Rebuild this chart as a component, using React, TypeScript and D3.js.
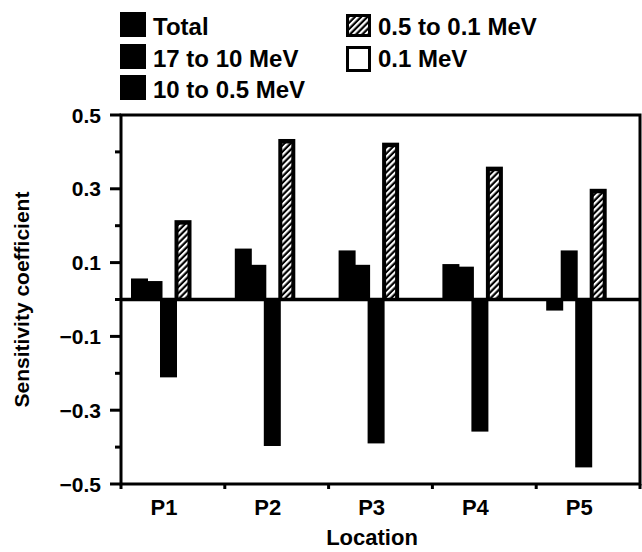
import React from "react";
import * as d3 from "d3";

const categories = ["P1", "P2", "P3", "P4", "P5"];
const seriesNames = ["Total", "17 to 10 MeV", "10 to 0.5 MeV", "0.5 to 0.1 MeV", "0.1 MeV"];
const totalValues = [0.057, 0.138, 0.133, 0.096, -0.03];
const mev17to10Values = [0.05, 0.094, 0.094, 0.089, 0.133];
const mev10to05Values = [-0.211, -0.397, -0.39, -0.358, -0.455];
const mev05to01Values = [0.215, 0.435, 0.425, 0.36, 0.3];
const mev01Values = [0, 0, 0, 0, 0];
const majorTicks = [0.5, 0.3, 0.1, -0.1, -0.3, -0.5];
const minorTicks = [0.4, 0.2, 0.0, -0.2, -0.4];
const yTitle = "Sensitivity coefficient";
const xTitle = "Location";

const seriesValues = [totalValues, mev17to10Values, mev10to05Values, mev05to01Values, mev01Values];
const seriesStyle = ["solid", "solid", "solid", "hatch", "empty"];

const W = 642;
const H = 552;
const left = 121;
const right = 640;
const top = 115;
const bottom = 484;
const FONT = "'Liberation Sans', Arial, Helvetica, sans-serif";

const fmt = (v: number) => (v < 0 ? "\u2212" : "") + Math.abs(v).toFixed(1);

export default function App() {
  const x0 = d3.scaleBand<string>().domain(categories).range([left, right]).padding(0);
  const x1 = d3.scaleBand<string>().domain(seriesNames).range([10, 10 + 5 * 14.5]).padding(0);
  const y = d3.scaleLinear().domain([-0.5, 0.5]).range([bottom, top]);
  const barW = x1.bandwidth() + 2.5;
  const y0 = y(0);

  const bars: React.ReactNode[] = [];
  seriesNames.forEach((name, si) => {
    categories.forEach((cat, ci) => {
      const v = seriesValues[si][ci];
      const bx = (x0(cat) as number) + (x1(name) as number);
      const by = Math.min(y(v), y0);
      const bh = Math.abs(y(v) - y0);
      const style = seriesStyle[si];
      if (bh <= 0) return;
      if (style === "solid") {
        bars.push(<rect key={`${si}-${ci}`} x={bx} y={by} width={barW} height={bh} fill="#000" />);
      } else if (style === "hatch") {
        bars.push(
          <g key={`${si}-${ci}`}>
            <rect x={bx} y={by} width={barW} height={bh} fill="#000" />
            <rect x={bx + 4} y={by + 4.5} width={barW - 8} height={Math.max(0, bh - 4.5)} fill="url(#hatch)" />
          </g>
        );
      } else {
        bars.push(
          <rect key={`${si}-${ci}`} x={bx + 1.5} y={by + 1.5} width={barW - 3} height={Math.max(0, bh - 3)} fill="#fff" stroke="#000" strokeWidth={3} />
        );
      }
    });
  });

  const legendItems = [
    { name: seriesNames[0], style: "solid", x: 120, y: 35 },
    { name: seriesNames[1], style: "solid", x: 120, y: 67 },
    { name: seriesNames[2], style: "solid", x: 120, y: 98 },
    { name: seriesNames[3], style: "hatch", x: 346, y: 35 },
    { name: seriesNames[4], style: "empty", x: 346, y: 67 },
  ];

  return (
    <div style={{ position: "fixed", left: 0, top: 0, width: W, height: H, background: "#fff" }}>
      <svg width={W} height={H} viewBox={`0 0 ${W} ${H}`} style={{ display: "block" }}>
        <defs>
          <pattern id="hatch" patternUnits="userSpaceOnUse" width={4.4} height={10} patternTransform="rotate(45)">
            <rect x={0} y={0} width={4.4} height={10} fill="#000" />
            <rect x={0} y={0} width={2.2} height={10} fill="#fff" />
          </pattern>
        </defs>
        <rect x={0} y={0} width={W} height={H} fill="#fff" />

        {/* Legend */}
        {legendItems.map((it) => (
          <g key={it.name}>
            {it.style === "solid" && <rect x={it.x} y={it.y - 23} width={26} height={25} fill="#000" />}
            {it.style === "hatch" && (
              <g>
                <rect x={it.x} y={it.y - 21} width={25} height={23} fill="#000" />
                <rect x={it.x + 3} y={it.y - 18} width={19} height={17} fill="url(#hatch)" />
              </g>
            )}
            {it.style === "empty" && (
              <rect x={it.x + 1.5} y={it.y - 19.5} width={22} height={23} fill="#fff" stroke="#000" strokeWidth={3} />
            )}
            <text x={it.x + (it.x < 200 ? 33 : 32)} y={it.y} fontFamily={FONT} fontWeight="bold" fontSize={24} fill="#000">
              {it.name}
            </text>
          </g>
        ))}

        {/* Bars */}
        {bars}

        {/* Frame */}
        <rect x={left} y={top} width={right - left} height={bottom - top} fill="none" stroke="#000" strokeWidth={3} />
        {/* Zero line */}
        <line x1={left} x2={right} y1={y0} y2={y0} stroke="#000" strokeWidth={3.5} />

        {/* Y ticks */}
        {majorTicks.map((t) => (
          <g key={`M${t}`}>
            <line x1={left - 11} x2={left} y1={y(t)} y2={y(t)} stroke="#000" strokeWidth={3} />
            <text x={101} y={y(t)} dy="0.36em" textAnchor="end" fontFamily={FONT} fontWeight="bold" fontSize={21} fill="#000">
              {fmt(t)}
            </text>
          </g>
        ))}
        {minorTicks.map((t) => (
          <line key={`m${t}`} x1={left - 6} x2={left} y1={y(t)} y2={y(t)} stroke="#000" strokeWidth={3} />
        ))}

        {/* X ticks */}
        {categories.map((c) => (
          <line key={`xt${c}`} x1={(x0(c) as number)} x2={(x0(c) as number)} y1={bottom} y2={bottom + 5} stroke="#000" strokeWidth={3} />
        ))}
        <line x1={right} x2={right} y1={bottom} y2={bottom + 5} stroke="#000" strokeWidth={3} />
        {categories.map((c) => (
          <text key={`xl${c}`} x={(x0(c) as number) + 43} y={515} textAnchor="middle" fontFamily={FONT} fontWeight="bold" fontSize={22} fill="#000">
            {c}
          </text>
        ))}

        {/* Axis titles */}
        <text x={372} y={545} textAnchor="middle" fontFamily={FONT} fontWeight="bold" fontSize={22} fill="#000">
          {xTitle}
        </text>
        <text transform={`translate(29, ${(top + bottom) / 2}) rotate(-90)`} textAnchor="middle" fontFamily={FONT} fontWeight="bold" fontSize={21} fill="#000">
          {yTitle}
        </text>
      </svg>
    </div>
  );
}
